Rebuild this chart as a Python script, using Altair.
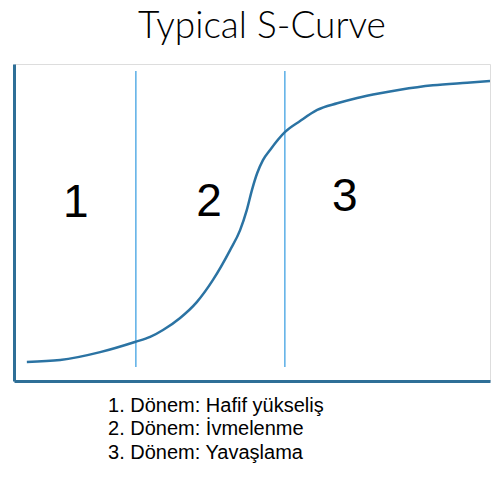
import altair as alt
import pandas as pd

# S-curve samples (x: time 0-100, y: progress 0-100)
curve_x = [2.7, 9.7, 18.1, 25.4, 28.6, 31.3, 34.9, 38.4, 41.8, 45.4, 47.5, 48.9, 50.0, 51.1, 52.3, 53.8, 56.9, 60.1, 63.7, 67.9, 72.1, 76.9, 81.1, 88.0, 95.2, 100.0]
curve_y = [6.0, 6.6, 9.1, 12.3, 13.9, 16.1, 19.9, 24.9, 31.9, 41.3, 47.6, 53.9, 60.3, 65.6, 69.7, 72.9, 78.5, 82.0, 85.5, 87.6, 89.3, 90.8, 91.9, 93.3, 94.1, 94.6]

# phase boundaries
phase_x = [25.6, 56.9]
phase_y0 = [4.4, 4.4]
phase_y1 = [97.8, 97.8]

# phase numbers
phase_labels = ["1", "2", "3"]
phase_label_x = [13.0, 41.0, 69.5]
phase_label_y = [56.2, 56.5, 58.0]

# legend lines
legend_lines = ["1. Dönem: Hafif yükseliş", "2. Dönem: İvmelenme", "3. Dönem: Yavaşlama"]
legend_x = [19.75]
legend_y = [-4.7]

# title
title_text = ["Typical S-Curve"]
title_x = [52.1]
title_y = [108.2]

xs = alt.Scale(domain=[0, 100], nice=False, zero=False)
ys = alt.Scale(domain=[0, 100], nice=False, zero=False)

curve_df = pd.DataFrame({"x": curve_x, "y": curve_y})
phase_df = pd.DataFrame({"x": phase_x, "y": phase_y0, "y2": phase_y1})
lab_df = pd.DataFrame({"x": phase_label_x, "y": phase_label_y, "t": phase_labels})
leg_df = pd.DataFrame({"x": legend_x, "y": legend_y, "t": [legend_lines]})
title_df = pd.DataFrame({"x": title_x, "y": title_y, "t": title_text})

ax_x = alt.Axis(title=None, labels=False, ticks=False, grid=False, domainColor="#2e6f97", domainWidth=3)
ax_y = alt.Axis(title=None, labels=False, ticks=False, grid=False, domainColor="#2e6f97", domainWidth=3)

base_axes = alt.Chart(curve_df).mark_line(
    color="#2b73a3", strokeWidth=2.5, interpolate="monotone"
).encode(
    x=alt.X("x:Q", scale=xs, axis=ax_x),
    y=alt.Y("y:Q", scale=ys, axis=ax_y),
)

rules = alt.Chart(phase_df).mark_rule(color="#5aaee6", strokeWidth=1.5).encode(
    x=alt.X("x:Q", scale=xs),
    y=alt.Y("y:Q", scale=ys),
    y2="y2:Q",
)

labels = alt.Chart(lab_df).mark_text(
    font="Liberation Sans", fontSize=46, color="#000000", baseline="middle", align="center"
).encode(
    x=alt.X("x:Q", scale=xs),
    y=alt.Y("y:Q", scale=ys),
    text="t:N",
)

legend = alt.Chart(leg_df).mark_text(
    font="Liberation Sans", fontSize=20, color="#000000", baseline="top", align="left",
    lineHeight=23.5,
).encode(
    x=alt.X("x:Q", scale=xs),
    y=alt.Y("y:Q", scale=ys),
    text="t",
)

title = alt.Chart(title_df).mark_text(
    font="Lato", fontWeight=300, fontSize=37, color="#000000", baseline="alphabetic", align="center"
).encode(
    x=alt.X("x:Q", scale=xs),
    y=alt.Y("y:Q", scale=ys),
    text="t:N",
)

chart = alt.layer(rules, base_axes, labels, legend, title).properties(
    width=476,
    height=317,
    padding={"left": 6, "top": 56, "right": 5, "bottom": 88},
    autosize=alt.AutoSizeParams(type="none"),
).configure_view(stroke=None).configure(background="white")

chart.save("out.html", embed_options={"renderer": "svg", "actions": False})
